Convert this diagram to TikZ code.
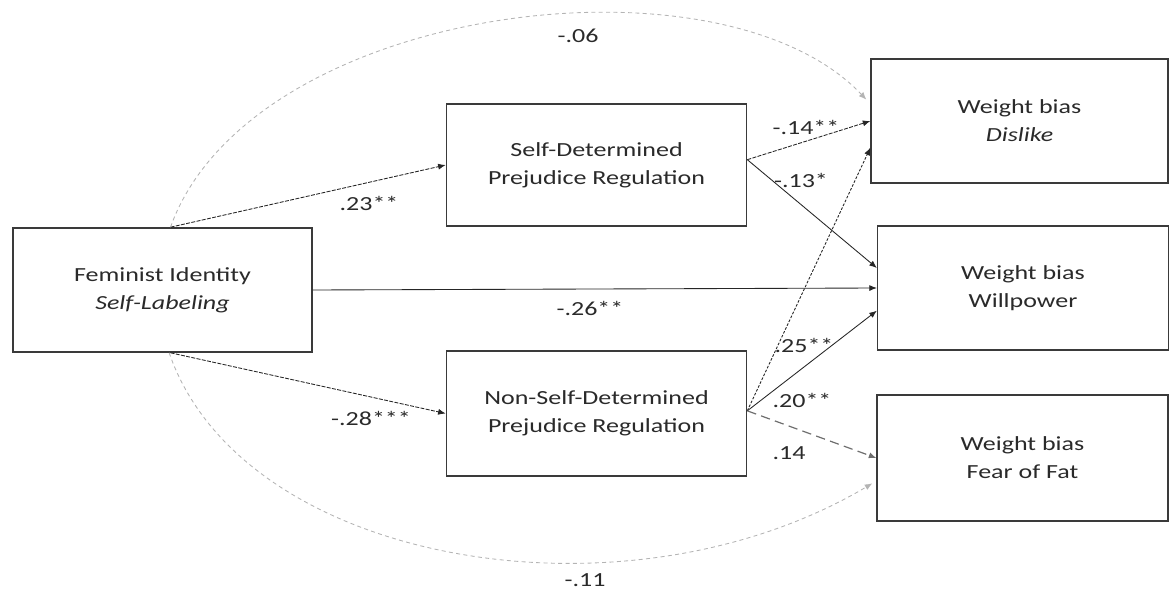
\documentclass[tikz,border=0pt]{standalone}
\usepackage{fontspec}
\setmainfont{Carlito}[FakeStretch=1.3]
\usetikzlibrary{arrows.meta, calc}
\definecolor{boxline}{HTML}{3A3A3A}
\definecolor{textdark}{HTML}{2A2A2A}
\definecolor{arcgray}{HTML}{B4B4B4}
\definecolor{dashgray}{HTML}{6E6E6E}

\begin{document}
\begin{tikzpicture}[
  x=0.75pt, y=-0.75pt,
  varbox/.style={rectangle, draw=boxline, line width=1.2pt, fill=white,
              minimum width=225pt, minimum height=92pt, inner sep=0pt,
              align=center, font=\fontsize{15}{21}\selectfont\color{textdark}},
  outbox/.style={varbox, minimum width=218pt},
  coef/.style={inner sep=0pt, font=\fontsize{15}{18}\selectfont\color{textdark}},
  effect/.style={-{Latex[length=2mm, width=1.6mm]}, line width=0.65pt, color=black!85},
  finedash/.style={effect, dash pattern=on 3pt off 1pt},
  weakpath/.style={effect, color=dashgray, line width=0.9pt, dash pattern=on 7pt off 4pt},
  covpath/.style={effect, color=arcgray, dash pattern=on 3pt off 2.5pt}
]
  \useasboundingbox (0,0) rectangle (1169,591);

  % predictor and mediators
  \node[varbox, minimum width=224pt, minimum height=93pt] (fem) at (162.5,290)
    {Feminist Identity\\\textit{Self-Labeling}};
  \node[varbox, minimum height=91.5pt] (sdpr) at (596.5,165)
    {Self-Determined\\Prejudice Regulation};
  \node[varbox, minimum height=93.5pt] (nsdpr) at (596.5,413.5)
    {Non-Self-Determined\\Prejudice Regulation};

  % outcomes
  \node[outbox, minimum width=222.5pt, minimum height=93pt] (dis) at (1019.5,121)
    {Weight bias\\\textit{Dislike}};
  \node[outbox, minimum height=93pt] (will) at (1023,288)
    {Weight bias\\Willpower};
  \node[outbox, minimum height=94.5pt] (fear) at (1022.5,458)
    {Weight bias\\Fear of Fat};

  % paths
  \draw[finedash] ([xshift=6pt]fem.north) -- (sdpr.west);
  \draw[finedash] ([xshift=6pt]fem.south) -- (nsdpr.west);
  \draw[effect] (fem.east) -- (will.west);
  \draw[finedash] ([yshift=4pt]sdpr.east) -- (dis.west);
  \draw[effect] ([yshift=4pt]sdpr.east) -- ([yshift=15pt]will.west);
  \draw[finedash, dash pattern=on 2pt off 1.2pt] ([yshift=2pt]nsdpr.east) -- ([yshift=-20pt]dis.west);
  \draw[effect] ([yshift=2pt]nsdpr.east) -- ([yshift=-17pt]will.west);
  \draw[weakpath] ([yshift=2pt]nsdpr.east) -- (fear.west);

  % direct effects
  \draw[covpath] ([xshift=6pt]fem.north) .. controls (250,5) and (720,-55)
    .. ([xshift=-3pt, yshift=16pt]dis.west);
  \draw[covpath] ([xshift=5pt]fem.south) .. controls (242,565) and (625,630)
    .. ([xshift=-3pt, yshift=-19pt]fear.west);

  % coefficients
  \node[coef] (c06) at (578,36) {-.06};
  \node[coef] (c23) at (369,203) {.23**};
  \node[coef] (c26) at (590,308) {-.26**};
  \node[coef] (c28) at (371,418) {-.28***};
  \node[coef] (c14a) at (806,127) {-.14**};
  \node[coef] (c13) at (801,180) {-.13*};
  \node[coef] (c25) at (804,345) {.25**};
  \node[coef] (c20) at (802,400) {.20**};
  \node[coef] (c14b) at (789,453) {.14};
  \node[coef] (c11) at (585,580) {-.11};
\end{tikzpicture}
\end{document}
